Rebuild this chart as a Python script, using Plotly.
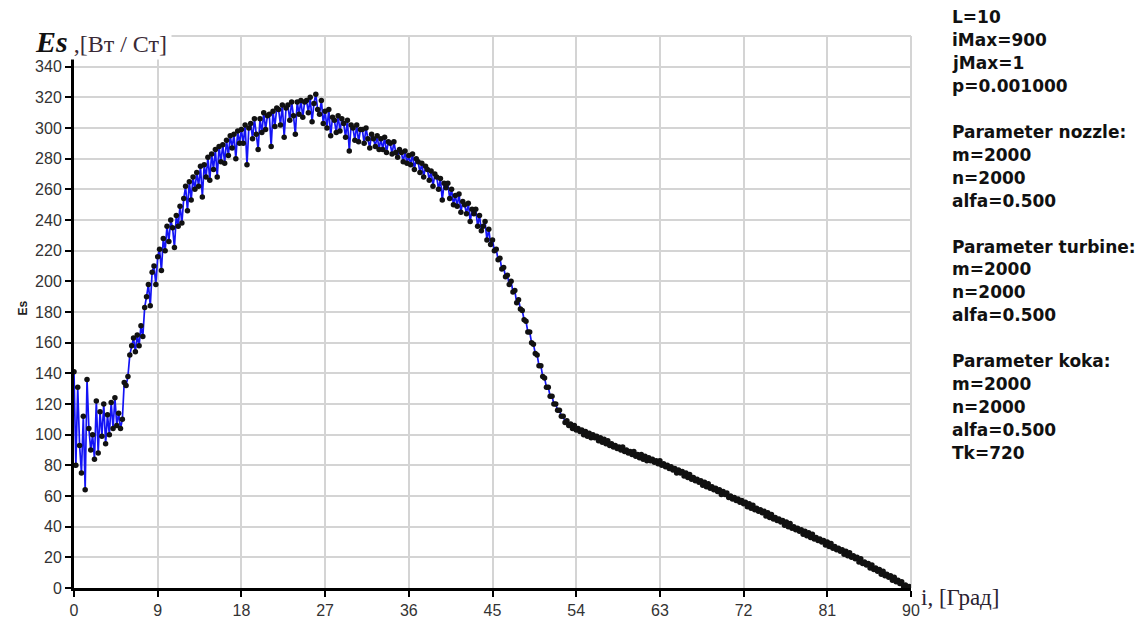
import plotly.graph_objects as go

# Es(i) samples, one every 0.2 degree from 0 to 90
step = 0.2
es_values = [
    141, 80, 131, 93, 75,        # 0
    112, 64, 136, 104, 90,       # 1
    100, 84, 122, 88, 115,       # 2
    99, 120, 94, 113, 100,       # 3
    121, 104, 124, 106, 114,     # 4
    104, 110, 134, 132, 138,     # 5
    152, 158, 163, 154, 165,     # 6
    158, 171, 164, 183, 190,     # 7
    198, 184, 206, 210, 198,     # 8
    216, 221, 207, 228, 220,     # 9
    236, 226, 240, 235, 222,     # 10
    243, 236, 249, 238, 254,     # 11
    262, 246, 265, 253, 268,     # 12
    260, 271, 262, 275, 255,     # 13
    276, 268, 281, 266, 283,     # 14
    273, 286, 268, 288, 278,     # 15
    289, 277, 292, 282, 295,     # 16
    287, 296, 280, 298, 290,     # 17
    299, 290, 302, 276, 300,     # 18
    303, 293, 306, 296, 286,     # 19
    306, 297, 310, 299, 308,     # 20
    309, 288, 311, 301, 313,     # 21
    312, 302, 315, 294, 313,     # 22
    315, 305, 317, 308, 296,     # 23
    317, 309, 318, 307, 317,     # 24
    318, 310, 320, 304, 316,     # 25
    322, 312, 309, 318, 303,     # 26
    311, 300, 312, 295, 307,     # 27
    305, 297, 308, 298, 306,     # 28
    303, 294, 305, 285, 302,     # 29
    300, 292, 302, 291, 299,     # 30
    299, 290, 300, 293, 287,     # 31
    296, 293, 288, 295, 286,     # 32
    293, 286, 294, 284, 291,     # 33
    290, 283, 291, 284, 281,     # 34
    286, 284, 278, 285, 277,     # 35
    282, 276, 283, 273, 280,     # 36
    278, 271, 277, 268, 275,     # 37
    273, 266, 272, 262, 270,     # 38
    268, 260, 267, 253, 264,     # 39
    261, 264, 254, 260, 250,     # 40
    256, 249, 257, 245, 252,     # 41
    250, 244, 251, 239, 247,     # 42
    244, 247, 236, 243, 233,     # 43
    236, 239, 227, 234, 224,     # 44
    227, 220, 221, 214, 215,     # 45
    208, 209, 203, 204, 198,     # 46
    200, 193, 194, 186, 188,     # 47
    182, 181, 175, 174, 167,     # 48
    167, 160, 159, 153, 152,     # 49
    145, 145, 138, 137, 131,     # 50
    131, 125, 125, 120, 120,     # 51
    116, 116, 112, 112, 108,     # 52
    109, 106, 107, 104, 106,     # 53
    103, 104, 102, 103, 100,     # 54
    102, 99, 101, 98, 100,       # 55
    98, 99, 96, 98, 95,          # 56
    97, 94, 96, 93, 94,          # 57
    92, 93, 91, 92, 90,          # 58
    92, 89, 90, 88, 89,          # 59
    87, 89, 86, 87, 85,          # 60
    87, 84, 86, 83, 85,          # 61
    83, 84, 82, 83, 81,          # 62
    83, 80, 81, 79, 80,          # 63
    78, 79, 77, 78, 75,          # 64
    77, 75, 76, 73, 75,          # 65
    72, 74, 71, 72, 70,          # 66
    71, 69, 70, 67, 69,          # 67
    66, 68, 65, 66, 64,          # 68
    65, 63, 64, 61, 63,          # 69
    61, 62, 59, 60, 58,          # 70
    59, 57, 58, 56, 57,          # 71
    55, 56, 53, 55, 52,          # 72
    54, 51, 52, 50, 51,          # 73
    49, 50, 47, 49, 46,          # 74
    48, 45, 46, 44, 45,          # 75
    43, 44, 41, 43, 40,          # 76
    42, 39, 40, 38, 39,          # 77
    37, 38, 35, 37, 34,          # 78
    36, 33, 35, 32, 33,          # 79
    31, 32, 30, 31, 28,          # 80
    30, 27, 29, 26, 27,          # 81
    25, 26, 24, 25, 22,          # 82
    24, 21, 23, 20, 21,          # 83
    19, 20, 17, 19, 16,          # 84
    17, 15, 16, 13, 15,          # 85
    12, 13, 11, 12, 9,           # 86
    11, 8, 9, 7, 8,              # 87
    5, 7, 4, 5, 3,               # 88
    4, 1, 2, 0, 1,               # 89
    0,                           # 90
]
i_deg = [round(k * step, 1) for k in range(len(es_values))]

x_ticks = list(range(0, 91, 9))
y_ticks = list(range(0, 341, 20))

info_lines = [
    "L=10", "iMax=900", "jMax=1", "p=0.001000", "",
    "Parameter nozzle:", "m=2000", "n=2000", "alfa=0.500", "",
    "Parameter turbine:", "m=2000", "n=2000", "alfa=0.500", "",
    "Parameter koka:", "m=2000", "n=2000", "alfa=0.500", "Tk=720",
]

W, H = 1146, 631
ML, MR, MT, MB = 74, 235, 36, 34
PW, PH = W - ML - MR, H - MT - MB


def px_x(px):
    return (px - ML) / PW


def px_y(py):
    return (H - MB - py) / PH


fig = go.Figure()
fig.add_trace(go.Scatter(
    x=i_deg, y=es_values, mode="lines+markers",
    line=dict(color="#1414f5", width=1.7),
    marker=dict(color="#111111", size=5.5),
    hoverinfo="skip", showlegend=False,
))

grid = "#d4d4d4"
tickfont = dict(family="Liberation Sans, Arial", size=16, color="#333333")
fig.update_xaxes(
    range=[0, 90], tickvals=x_ticks, showgrid=True, gridcolor=grid, gridwidth=2,
    showline=True, linecolor="black", linewidth=3, zeroline=False,
    ticks="outside", ticklen=6, tickwidth=1.5, tickcolor="black", tickfont=tickfont,
)
fig.update_yaxes(
    range=[0, 360], tickvals=y_ticks, showgrid=True, gridcolor=grid, gridwidth=2,
    showline=True, linecolor="black", linewidth=3, zeroline=False,
    ticks="outside", ticklen=6, tickwidth=1.5, tickcolor="black", tickfont=tickfont,
)

# light frame along top and right edges
fig.add_shape(type="line", xref="paper", yref="paper", x0=0, x1=1, y0=1, y1=1,
              line=dict(color=grid, width=2), layer="below")
fig.add_shape(type="line", xref="paper", yref="paper", x0=1, x1=1, y0=0, y1=1,
              line=dict(color=grid, width=2), layer="below")

annotations = []
# axis caption above the y axis
annotations.append(dict(
    xref="paper", yref="paper", x=px_x(34), y=px_y(22), xanchor="left", yanchor="top",
    width=136, height=36, align="left", valign="middle", bgcolor="white", borderpad=0,
    showarrow=False,
    text="<b><i>Es</i></b><span style='font-size:24px;color:#3a2a36'> ,[Вт / Ст]</span>",
    font=dict(family="Liberation Serif, Times New Roman", size=30, color="#111111"),
))
# x axis caption
annotations.append(dict(
    xref="paper", yref="paper", x=px_x(919), y=px_y(607), xanchor="left", yanchor="middle",
    showarrow=False, text="i, [Град]",
    font=dict(family="Liberation Serif, Times New Roman", size=23, color="#2a2230"),
))
# rotated y axis title
annotations.append(dict(
    xref="paper", yref="paper", x=px_x(23), y=px_y(313), xanchor="center", yanchor="middle",
    showarrow=False, text="<b>Es</b>", textangle=-90,
    font=dict(family="Liberation Sans, Arial", size=12, color="#222222"),
))
# parameter list on the right
for k, line in enumerate(info_lines):
    if not line:
        continue
    annotations.append(dict(
        xref="paper", yref="paper", x=px_x(950), y=px_y(17 + 23.3 * k),
        xanchor="left", yanchor="middle", showarrow=False, text=f"<b>{line}</b>",
        font=dict(family="DejaVu Sans", size=17, color="#111111"),
    ))

fig.update_layout(
    width=W, height=H, margin=dict(l=ML, r=MR, t=MT, b=MB),
    paper_bgcolor="white", plot_bgcolor="white", annotations=annotations,
)

fig.write_html("out.html")
